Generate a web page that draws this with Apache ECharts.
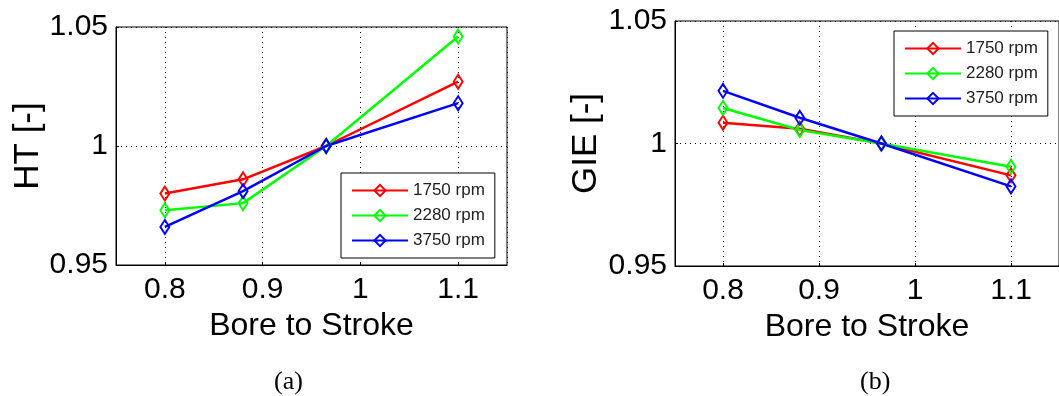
<!DOCTYPE html>
<html>
<head>
<meta charset="utf-8">
<script src="https://cdn.jsdelivr.net/npm/echarts@6/dist/echarts.min.js"></script>
<style>
html,body{margin:0;padding:0;background:#fff;}
#c{width:1059px;height:396px;}
</style>
</head>
<body>
<div id="c"></div>
<script>
// ---- data ----
const boreToStroke = [0.8, 0.88, 0.965, 1.1];
const seriesNames = ['1750 rpm', '2280 rpm', '3750 rpm'];
const ht1750 = [0.980, 0.986, 1.000, 1.027];
const ht2280 = [0.973, 0.976, 1.000, 1.046];
const ht3750 = [0.966, 0.981, 1.000, 1.018];
const gie1750 = [1.0085, 1.006, 1.000, 0.987];
const gie2280 = [1.0145, 1.0055, 1.000, 0.9905];
const gie3750 = [1.0215, 1.0105, 1.000, 0.9825];
const panelLabels = ['(a)', '(b)'];
const yNames = ['HT [-]', 'GIE [-]'];
const xName = 'Bore to Stroke';

const colors = ['#ff0000', '#00ff00', '#0000ff'];
const FONT = '"Liberation Sans", Arial, Helvetica, sans-serif';

function pairs(ys) { return boreToStroke.map((x, i) => [x, ys[i]]); }

function mkSeries(name, ys, idx, color) {
  return {
    type: 'line', name: name, xAxisIndex: idx, yAxisIndex: idx,
    data: pairs(ys), color: color,
    symbol: 'diamond', symbolSize: [9, 14],
    lineStyle: { color: color, width: 2.5 },
    itemStyle: { color: 'rgba(255,255,255,0)', borderColor: color, borderWidth: 2 },
    emphasis: { disabled: true }, animation: false
  };
}

function mkX(idx) {
  return {
    type: 'value', gridIndex: idx, min: 0.75, max: 1.15,
    name: xName, nameLocation: 'middle', nameGap: 42,
    nameTextStyle: { fontFamily: FONT, fontSize: 32, color: '#000' },
    axisLine: { show: true, onZero: false, lineStyle: { color: '#000', width: 1 } },
    axisTick: { show: true, inside: true, length: 3, lineStyle: { color: '#000' } },
    axisLabel: { fontFamily: FONT, fontSize: 30, color: '#000', margin: 10, showMinLabel: false, showMaxLabel: false },
    splitLine: { show: true, lineStyle: { color: '#000', type: [1, 4], width: 1 } }
  };
}
function mkY(idx) {
  return {
    type: 'value', gridIndex: idx, min: 0.95, max: 1.05, interval: 0.05,
    name: yNames[idx], nameLocation: 'middle', nameGap: idx === 0 ? 70 : 71,
    nameTextStyle: { fontFamily: FONT, fontSize: 35, color: '#000' },
    axisLine: { show: true, onZero: false, lineStyle: { color: '#000', width: 1 } },
    axisTick: { show: true, inside: true, length: 3, lineStyle: { color: '#000' } },
    axisLabel: { fontFamily: FONT, fontSize: 30, color: '#000', margin: 8 },
    splitLine: { show: true, lineStyle: { color: '#000', type: [1, 4], width: 1 } }
  };
}
function mkLegend(left, top) {
  return {
    orient: 'vertical', left: left, top: top,
    data: seriesNames,
    itemWidth: 56, itemHeight: 14, itemGap: 8,
    padding: [9, 10, 9, 10],
    borderColor: '#000', borderWidth: 1, backgroundColor: '#fff',
    textStyle: { fontFamily: FONT, fontSize: 17, color: '#222' },
    selectedMode: false
  };
}

const option = {
  animation: false,
  backgroundColor: '#fff',
  grid: [
    { left: 116, top: 27, width: 391, height: 238, show: true, borderColor: '#000', borderWidth: 1, backgroundColor: '#fff' },
    { left: 675, top: 21, width: 387, height: 245, show: true, borderColor: '#000', borderWidth: 1, backgroundColor: '#fff' }
  ],
  xAxis: [mkX(0), mkX(1)],
  yAxis: [mkY(0), mkY(1)],
  legend: [mkLegend(341, 173), mkLegend(894, 31)],
  series: [
    mkSeries(seriesNames[0], ht1750, 0, colors[0]),
    mkSeries(seriesNames[1], ht2280, 0, colors[1]),
    mkSeries(seriesNames[2], ht3750, 0, colors[2]),
    mkSeries(seriesNames[0], gie1750, 1, colors[0]),
    mkSeries(seriesNames[1], gie2280, 1, colors[1]),
    mkSeries(seriesNames[2], gie3750, 1, colors[2])
  ],
  graphic: [
    { type: 'text', left: 274, top: 369, style: { text: panelLabels[0], font: '26px "Liberation Serif", "Times New Roman", serif', fill: '#000' } },
    { type: 'text', left: 860, top: 369, style: { text: panelLabels[1], font: '26px "Liberation Serif", "Times New Roman", serif', fill: '#000' } }
  ]
};

const chart = echarts.init(document.getElementById('c'), null, { renderer: 'canvas' });
chart.setOption(option);
</script>
</body>
</html>
